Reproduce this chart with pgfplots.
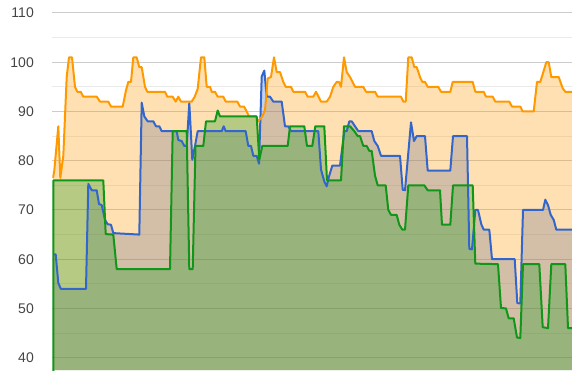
\documentclass[border=0pt]{standalone}
\usepackage{fontspec}
\setmainfont{Liberation Sans}
\usepackage{pgfplots}
\pgfplotsset{compat=1.18}
\usepackage{pgfplotstable}
\definecolor{cblue}{HTML}{3366CC}
\definecolor{corange}{HTML}{FF9900}
\definecolor{cgreen}{HTML}{109618}
\definecolor{gridmaj}{HTML}{CCCCCC}
\definecolor{gridmin}{HTML}{EBEBEB}
\definecolor{labelgray}{HTML}{444444}

\pgfplotstableread{
x y
53 76.5
54.3 78
58.3 87
60.3 76.5
63.3 81
66.7 97
69 101
72 101
75 95
77.3 94
80.7 94
83.3 93
96.7 93
100 92
108.3 92
111 91
122.7 91
126 94.3
128.3 96
131 96
133.3 101
136.7 101
139.3 99
141.7 99
145 95
147.3 94
165 94
167.3 93
172.7 93
175.7 92
178.3 93
181 92
191.7 92
194.7 93
197.7 94.6
201 101
204.3 101
206.7 95
210 95
211.7 94
215 94
217.7 93
223.3 93
225.7 92
237.3 92
240 91
244 91
246.7 90
249 89
256 89
258 88
262.3 89
265 90.3
267.7 96.7
271 97
274 101
276.7 98
280 98
283.3 96
285.7 95
291 95
293.3 94
305 94
307.7 93
313.3 93
316 94
321 92
326.7 92
330 93
333.3 95
336.7 96
339 96
341 95
344 101
346.7 98
350 97
355 95
363.3 95
366 94
375 94
377.7 93
401 93
403.3 92
405.7 92
408.3 101
411.7 101
414.3 99
416.7 99
420 97
422.3 96
425 96
427.7 95
438.3 95
441 94
450.3 94
452.7 96
472.7 96
475.3 94
483.7 94
486 93
492.7 93
495.3 92
509.3 92
512 91
520.3 91
522.7 90
533.7 90
537 96
540.3 96
546.3 100
548.7 100
551.3 97
558.7 97
562.7 94.7
565.3 94
572 94
}\orangedata

\pgfplotstableread{
x y
53.5 61
55.7 61
58.3 55.2
60.7 54
86 54
88.3 75.3
91.7 74
96.7 74
99 71.2
101.7 71
105 68
107.7 67.1
111 67
113.3 65.3
139.3 65
141.7 91.8
144.3 89
147.7 88
153.3 88
156 87
159.3 87
161.7 86
176.7 86
178.3 84.2
181.7 84
184.3 83
186.7 83
189.3 91.7
192.3 80.2
195 83
197.7 86
221.7 86
223.7 87
225.7 86
245.7 86
248.3 83
251 83
253.3 81
256.7 81
259 79.4
261.7 97.1
264.3 98.3
266.7 93
270 93
273.3 92
281.7 92
285 87
288.3 87
291 86
318.3 86
321 78.2
324.3 75.8
326.7 74.8
329 76.8
332.3 79
340 79
344.3 86
346.7 86
349.3 88
351.7 88
355 87
358.3 86
371.7 86
374.3 84
377.7 83
381 81
400 81
402.7 74.1
405 74
411 87.8
414 84
416.7 85
425 85
427.7 78
450.3 78
453 85
467 85
469.3 62.1
472 62
475.3 70
478 70
481.3 67.1
483.7 66
489.3 66
492 60
514.7 60
517.3 51.1
520.3 51
523 70
543 70
545.3 72.1
548 71
550.7 69
553.7 68
556.3 66
572 66
}\bluedata

\pgfplotstableread{
x y
53.3 30
53.5 76
103.3 76
105.7 65.1
113.3 65
116.7 58
170 58
172.7 86
186.7 86
189.3 58
192.7 58
195.5 83
203.3 83
206 88
215 88
217.7 90.2
220 89
256.7 89
259.3 80.2
262.3 83
287.7 83
290 87
304.3 87
307 83
312.3 83
315.3 87
324.3 87
327 76
341 76
344 87
350 87
354.3 86
357.7 85
360 85
363.3 83
366.7 83
369.3 82
371.7 82
375 77
377.7 75
385.7 75
388.3 70
391 69
396.7 69
399.3 67
402.3 66
405 66
408.3 75
424.3 75
427.7 74
440 74
442 67
450.3 67
453 75
472.7 75
475.3 59.1
498 59
501 50.1
506 50
508.7 48
513.7 48
517 44.1
520.3 44
523 59
539.3 59
542.7 46.2
548 46
551.3 59
565.3 59
568 46
572 46
}\greendata

\begin{document}
\begin{tikzpicture}
\begin{axis}[
  scale only axis, width=519.5pt, height=370pt,
  xmin=52.5, xmax=572, ymin=37.5, ymax=112.64,
  axis line style={draw=none},
  xtick=\empty,
  ytick={40,50,...,110},
  minor ytick={45,55,...,105},
  ymajorgrids, yminorgrids,
  major grid style={color=gridmaj, line width=1pt},
  minor grid style={color=gridmin, line width=1pt},
  major tick length=0pt, minor tick length=0pt,
  tick style={draw=none},
  yticklabel style={font=\fontsize{14}{16}\selectfont, text=labelgray, anchor=east, inner sep=0pt, xshift=-18.5pt},
  /pgf/number format/assume math mode=true,
]
\addplot[draw=none, fill=cblue, fill opacity=0.3] table[x=x,y=y] {\bluedata} \closedcycle;
\addplot[draw=none, fill=corange, fill opacity=0.3] table[x=x,y=y] {\orangedata} \closedcycle;
\addplot[draw=none, fill=cgreen, fill opacity=0.3] table[x=x,y=y] {\greendata} \closedcycle;
\addplot[cblue, line width=2pt, line join=round, mark=none] table[x=x,y=y] {\bluedata};
\addplot[corange, line width=2pt, line join=round, mark=none] table[x=x,y=y] {\orangedata};
\addplot[cgreen, line width=2pt, line join=round, mark=none] table[x=x,y=y] {\greendata};
\end{axis}
\pgfresetboundingbox
\path (current axis.south west) ++(-52.5pt,0pt) rectangle (current axis.north east);
\end{tikzpicture}
\end{document}
